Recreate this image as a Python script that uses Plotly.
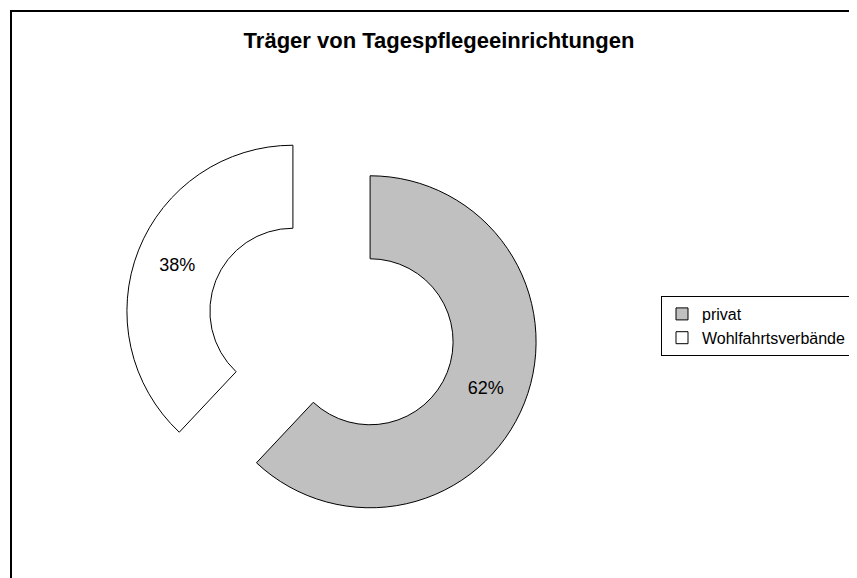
import plotly.graph_objects as go

W, H = 857, 578
# the page body adds an 8px margin; positions below are in figure pixels
OFF = 8

title_text = "Träger von Tagespflegeeinrichtungen"
labels = ["privat", "Wohlfahrtsverbände"]
values = [62, 38]
colors = ["#C0C0C0", "#FFFFFF"]

FONT = "Liberation Sans, Arial, sans-serif"

# pie box in screen pixels (left, top, size)
box_l, box_t, box_s = 124 - OFF, 119 - OFF, 415

fig = go.Figure()
fig.add_trace(go.Pie(
    labels=labels,
    values=values,
    hole=0.5,
    pull=[0.25, 0.25],
    sort=False,
    direction="clockwise",
    rotation=0,
    marker=dict(colors=colors, line=dict(color="#000000", width=1)),
    textinfo="percent",
    textposition="inside",
    insidetextorientation="horizontal",
    textfont=dict(family=FONT, size=18, color="#000000"),
    domain=dict(x=[box_l / W, (box_l + box_s) / W],
                y=[1 - (box_t + box_s) / H, 1 - box_t / H]),
    hoverinfo="label+percent",
))

fig.update_layout(
    width=W, height=H,
    margin=dict(l=0, r=0, t=0, b=0),
    paper_bgcolor="#FFFFFF",
    plot_bgcolor="#FFFFFF",
    title=dict(text="<b>" + title_text + "</b>", x=(439 - OFF) / W, xanchor="center",
               y=1 - (40 - OFF) / H, yanchor="middle",
               font=dict(family=FONT, size=22, color="#000000")),
    showlegend=True,
    legend=dict(x=(661 - OFF) / W, xanchor="left", y=1 - (296 - OFF) / H, yanchor="top",
                bgcolor="#FFFFFF", bordercolor="#000000", borderwidth=1,
                font=dict(family=FONT, size=16, color="#000000")),
    shapes=[dict(type="rect", xref="paper", yref="paper",
                 x0=(11 - OFF) / W, x1=1.05, y0=-0.05, y1=1 - (11 - OFF) / H,
                 line=dict(color="#000000", width=2), fillcolor="rgba(0,0,0,0)",
                 layer="below")],
)

fig.write_html("out.html")
